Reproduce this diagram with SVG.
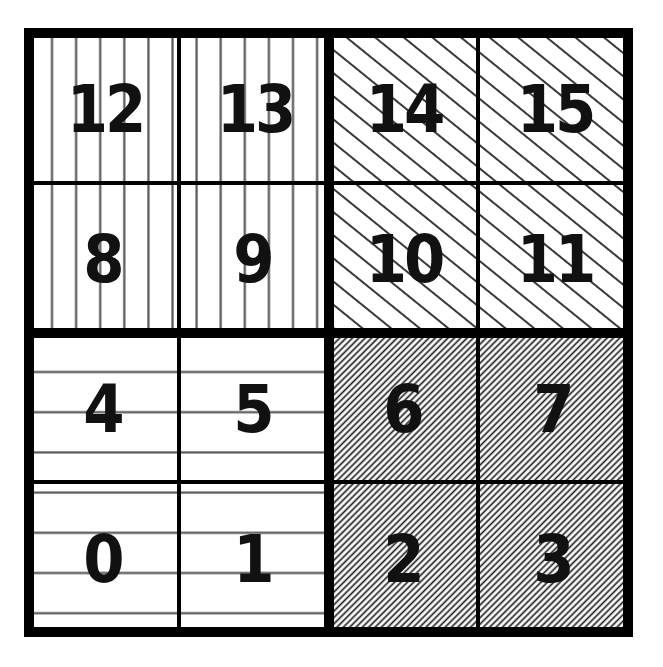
<svg xmlns="http://www.w3.org/2000/svg" width="663" height="667" viewBox="0 0 663 667">
  <defs>
    <pattern id="pv" patternUnits="userSpaceOnUse" x="39.95" y="0" width="24.1" height="20">
      <rect width="24.1" height="20" fill="#fff"/>
      <line x1="12.05" y1="0" x2="12.05" y2="20" stroke="#555" stroke-width="2.2"/>
    </pattern>
    <pattern id="ph" patternUnits="userSpaceOnUse" x="0" y="351.9" width="20" height="40.2">
      <rect width="20" height="40.2" fill="#fff"/>
      <line x1="0" y1="20.1" x2="20" y2="20.1" stroke="#555" stroke-width="2.2"/>
    </pattern>
    <pattern id="pd" patternUnits="userSpaceOnUse" width="20" height="18" patternTransform="rotate(39)">
      <rect width="20" height="18" fill="#fff"/>
      <line x1="0" y1="9" x2="20" y2="9" stroke="#222" stroke-width="1.8"/>
    </pattern>
    <pattern id="pf" patternUnits="userSpaceOnUse" width="10" height="4.5" patternTransform="rotate(-45)">
      <rect width="10" height="4.5" fill="#fff"/>
      <line x1="0" y1="2.25" x2="10" y2="2.25" stroke="#222" stroke-width="1.7"/>
    </pattern>
  </defs>
  <style>
    .num { font-family: "DejaVu Sans Condensed", "DejaVu Sans", "Liberation Sans", sans-serif; font-stretch: condensed; font-weight: bold; font-size: 66px; fill: #111; text-anchor: middle; }
    .two { letter-spacing: -3px; }
    .thin { stroke: #000; stroke-width: 4; fill: none; }
    .thick { stroke: #000; stroke-width: 10; fill: none; }
  </style>
  <rect width="663" height="667" fill="#fff"/>

  <g id="cells">
    <g id="cell12"><rect x="29" y="33" width="150" height="150" fill="url(#pv)"/><text class="num two" x="105" y="132">12</text></g>
    <g id="cell13"><rect x="179" y="33" width="150" height="150" fill="url(#pv)"/><text class="num two" x="255" y="132">13</text></g>
    <g id="cell14"><rect x="329" y="33" width="149" height="150" fill="url(#pd)"/><text class="num two" x="404" y="132">14</text></g>
    <g id="cell15"><rect x="478" y="33" width="150" height="150" fill="url(#pd)"/><text class="num two" x="555" y="132">15</text></g>

    <g id="cell8"><rect x="29" y="183" width="150" height="150" fill="url(#pv)"/><text class="num" x="104" y="282">8</text></g>
    <g id="cell9"><rect x="179" y="183" width="150" height="150" fill="url(#pv)"/><text class="num" x="254" y="282">9</text></g>
    <g id="cell10"><rect x="329" y="183" width="149" height="150" fill="url(#pd)"/><text class="num two" x="404" y="282">10</text></g>
    <g id="cell11"><rect x="478" y="183" width="150" height="150" fill="url(#pd)"/><text class="num two" x="555" y="282">11</text></g>

    <g id="cell4"><rect x="29" y="333" width="150" height="149" fill="url(#ph)"/><text class="num" x="104" y="432">4</text></g>
    <g id="cell5"><rect x="179" y="333" width="150" height="149" fill="url(#ph)"/><text class="num" x="254" y="432">5</text></g>
    <g id="cell6"><rect x="329" y="333" width="149" height="149" fill="url(#pf)"/><text class="num" x="404" y="432">6</text></g>
    <g id="cell7"><rect x="478" y="333" width="150" height="149" fill="url(#pf)"/><text class="num" x="554" y="432">7</text></g>

    <g id="cell0"><rect x="29" y="482" width="150" height="150" fill="url(#ph)"/><text class="num" x="104" y="582">0</text></g>
    <g id="cell1"><rect x="179" y="482" width="150" height="150" fill="url(#ph)"/><text class="num" x="254" y="582">1</text></g>
    <g id="cell2"><rect x="329" y="482" width="149" height="150" fill="url(#pf)"/><text class="num" x="404" y="582">2</text></g>
    <g id="cell3"><rect x="478" y="482" width="150" height="150" fill="url(#pf)"/><text class="num" x="554" y="582">3</text></g>
  </g>

  <g id="connectors">
    <line class="thin" x1="179" y1="33" x2="179" y2="632"/>
    <line class="thin" x1="478" y1="33" x2="478" y2="632"/>
    <line class="thin" x1="29" y1="183" x2="628" y2="183"/>
    <line class="thin" x1="29" y1="482" x2="628" y2="482"/>
    <line class="thick" x1="329" y1="33" x2="329" y2="632"/>
    <line class="thick" x1="29" y1="333" x2="628" y2="333"/>
    <rect class="thick" x="29" y="33" width="599" height="599"/>
  </g>
</svg>
